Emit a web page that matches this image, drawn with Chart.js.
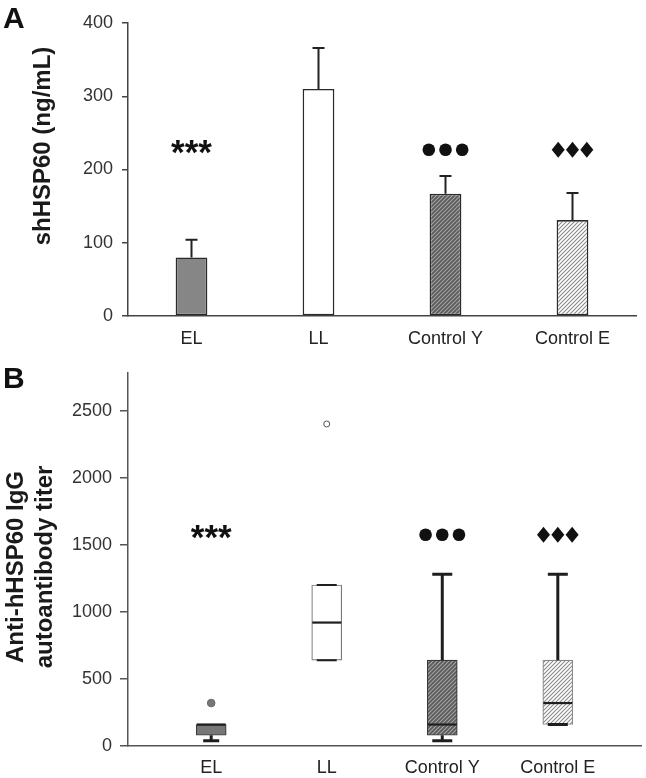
<!DOCTYPE html>
<html><head><meta charset="utf-8">
<script src="https://cdn.jsdelivr.net/npm/chart.js@4.4.0/dist/chart.umd.min.js"></script>
<style>
html,body{margin:0;padding:0;background:#fff;width:646px;height:778px;overflow:hidden}
canvas{position:absolute;left:0}
#a{top:0}#b{top:350px}
</style></head>
<body>
<canvas id="a" width="646" height="350"></canvas>
<canvas id="b" width="646" height="428"></canvas>
<script>
// ---------- data ----------
const categories = ['EL', 'LL', 'Control Y', 'Control E'];
// Panel A: mean shHSP60 (ng/mL) and top of error bar
const meanValues = [80, 310, 167, 131];
const errorTops = [104, 366, 191, 168];
const topTicks = [0, 100, 200, 300, 400];
// Panel B: box plot of anti-hHSP60 IgG titer
const boxQ1 = [80, 640, 80, 160];
const boxQ3 = [160, 1200, 640, 640];
const boxMedian = [160, 920, 160, 320];
const whiskerLow = [40, 640, 40, 160];
const whiskerHigh = [160, 1200, 1280, 1280];
const outlierCategory = [1, 2];
const outlierValues = [320, 2400];
const bottomTicks = [0, 500, 1000, 1500, 2000, 2500];
// significance markers
const markerKinds = ['stars', '', 'circles', 'diamonds'];
const markerLevelTop = 227;
const markerLevelBottom = 1575;

// ---------- styles ----------
const FONT = '"Liberation Sans", Arial, sans-serif';
function hatch(bg, fg, size, lw) {
  const c = document.createElement('canvas');
  c.width = c.height = size;
  const g = c.getContext('2d');
  g.fillStyle = bg; g.fillRect(0, 0, size, size);
  g.strokeStyle = fg; g.lineWidth = lw;
  g.beginPath();
  g.moveTo(-1, size + 1); g.lineTo(size + 1, -1);
  g.moveTo(-1, 1); g.lineTo(1, -1);
  g.moveTo(size - 1, size + 1); g.lineTo(size + 1, size - 1);
  g.stroke();
  return g.createPattern(c, 'repeat');
}
const darkHatch = hatch('#5a5a5a', '#a6a6a6', 4, 1.1);
const lightHatch = hatch('#ffffff', '#8a8a8a', 4, 1.1);
const barFills = ['#868686', '#ffffff', darkHatch, lightHatch];
const barBorders = ['#2a2a2a', '#2a2a2a', '#2a2a2a', '#2a2a2a'];
const boxFills = ['#777777', '#ffffff', darkHatch, lightHatch];
const boxBorders = ['#3a3a3a', '#7a7a7a', '#3a3a3a', '#8a8a8a'];

function drawMarker(ctx, kind, x, y) {
  ctx.save();
  ctx.fillStyle = '#111';
  if (kind === 'stars') {
    ctx.font = 'bold 35px ' + FONT;
    ctx.textAlign = 'center';
    ctx.textBaseline = 'alphabetic';
    ctx.fillText('***', x, y + 14);
  } else if (kind === 'circles') {
    for (let k = -1; k <= 1; k++) {
      ctx.beginPath(); ctx.arc(x + k * 16.7, y, 6.3, 0, Math.PI * 2); ctx.fill();
    }
  } else if (kind === 'diamonds') {
    for (let k = -1; k <= 1; k++) {
      const cx = x + k * 14.3;
      ctx.beginPath();
      ctx.moveTo(cx, y - 8); ctx.lineTo(cx + 6.5, y); ctx.lineTo(cx, y + 8); ctx.lineTo(cx - 6.5, y);
      ctx.closePath(); ctx.fill();
    }
  }
  ctx.restore();
}
function panelLetter(ctx, letter, x, y) {
  ctx.save();
  ctx.font = 'bold 30px ' + FONT;
  ctx.fillStyle = '#111';
  ctx.textAlign = 'left'; ctx.textBaseline = 'alphabetic';
  ctx.fillText(letter, x, y);
  ctx.restore();
}
function rotatedText(ctx, text, x, y) {
  ctx.save();
  ctx.translate(x, y); ctx.rotate(-Math.PI / 2);
  ctx.font = 'bold 24px ' + FONT;
  ctx.fillStyle = '#1a1a1a';
  ctx.textAlign = 'center'; ctx.textBaseline = 'middle';
  ctx.fillText(text, 0, 0);
  ctx.restore();
}

// ---------- Panel A ----------
const topPlugin = {
  id: 'topExtras',
  afterDatasetsDraw(chart) {
    const ctx = chart.ctx, ys = chart.scales.y;
    const meta = chart.getDatasetMeta(0);
    ctx.save();
    ctx.strokeStyle = '#222'; ctx.lineWidth = 2;
    meta.data.forEach((bar, i) => {
      const yt = ys.getPixelForValue(errorTops[i]);
      ctx.beginPath();
      ctx.moveTo(bar.x, bar.y); ctx.lineTo(bar.x, yt);
      ctx.moveTo(bar.x - 6, yt); ctx.lineTo(bar.x + 6, yt);
      ctx.stroke();
    });
    ctx.restore();
  },
  afterDraw(chart) {
    const ctx = chart.ctx, xs = chart.scales.x, ys = chart.scales.y;
    markerKinds.forEach((k, i) => drawMarker(ctx, k, xs.getPixelForValue(i), ys.getPixelForValue(markerLevelTop)));
    rotatedText(ctx, 'shHSP60 (ng/mL)', 43, 146);
    panelLetter(ctx, 'A', 3, 28);
  }
};
new Chart(document.getElementById('a'), {
  type: 'bar',
  data: {
    labels: categories,
    datasets: [{
      data: meanValues,
      backgroundColor: barFills,
      borderColor: barBorders,
      borderWidth: 1.6,
      borderSkipped: false,
      categoryPercentage: 1,
      barPercentage: 0.25
    }]
  },
  options: {
    responsive: false, animation: false, devicePixelRatio: 1,
    layout: { padding: { top: 23, right: 10, left: 0, bottom: 0 } },
    plugins: { legend: { display: false }, tooltip: { enabled: false } },
    scales: {
      x: {
        grid: { display: false, drawTicks: false },
        border: { display: true, color: '#444', width: 1.5 },
        ticks: { font: { family: FONT, size: 18 }, color: '#222', padding: 12 },
        afterFit(s) { s.height = 34; }
      },
      y: {
        min: 0, max: 400,
        afterBuildTicks(s) { s.ticks = topTicks.map(v => ({ value: v })); },
        grid: { drawOnChartArea: false, drawTicks: true, tickLength: 6, color: '#444', lineWidth: 1.5 },
        border: { display: true, color: '#444', width: 1.5 },
        ticks: { font: { family: FONT, size: 18 }, color: '#333', padding: 9, callback: v => String(v) },
        afterFit(s) { s.width = 128; }
      }
    }
  },
  plugins: [topPlugin]
});

// ---------- Panel B ----------
const bottomPlugin = {
  id: 'bottomExtras',
  afterDatasetsDraw(chart) {
    const ctx = chart.ctx, xs = chart.scales.x, ys = chart.scales.y;
    ctx.save();
    ctx.strokeStyle = '#1e1e1e';
    categories.forEach((c, i) => {
      const x = xs.getPixelForValue(i + 1);
      const q1 = ys.getPixelForValue(boxQ1[i]), q3 = ys.getPixelForValue(boxQ3[i]);
      const lo = ys.getPixelForValue(whiskerLow[i]), hi = ys.getPixelForValue(whiskerHigh[i]);
      const cap = i === 0 ? 8 : 10;
      ctx.lineWidth = i === 1 ? 2 : 3;
      ctx.beginPath();
      if (whiskerHigh[i] > boxQ3[i]) { ctx.moveTo(x, q3); ctx.lineTo(x, hi); }
      if (whiskerHigh[i] > boxQ3[i] || i === 1) { ctx.moveTo(x - cap, hi); ctx.lineTo(x + cap, hi); }
      if (whiskerLow[i] < boxQ1[i]) { ctx.moveTo(x, q1); ctx.lineTo(x, lo); }
      if (i !== 0 || whiskerLow[i] < boxQ1[i]) { ctx.moveTo(x - cap, lo); ctx.lineTo(x + cap, lo); }
      ctx.stroke();
      const m = ys.getPixelForValue(boxMedian[i]);
      ctx.lineWidth = 2.2;
      ctx.beginPath(); ctx.moveTo(x - 14.5, m); ctx.lineTo(x + 14.5, m); ctx.stroke();
    });
    ctx.restore();
  },
  afterDraw(chart) {
    const ctx = chart.ctx, xs = chart.scales.x, ys = chart.scales.y;
    markerKinds.forEach((k, i) => drawMarker(ctx, k, xs.getPixelForValue(i + 1), ys.getPixelForValue(markerLevelBottom)));
    rotatedText(ctx, 'Anti-hHSP60 IgG', 16, 217);
    rotatedText(ctx, 'autoantibody titer', 45, 217);
    panelLetter(ctx, 'B', 3, 38);
  }
};
new Chart(document.getElementById('b'), {
  type: 'bar',
  data: {
    datasets: [{
      type: 'bar',
      data: categories.map((c, i) => ({ x: i + 1, y: [boxQ1[i], boxQ3[i]] })),
      backgroundColor: boxFills,
      borderColor: boxBorders,
      borderWidth: 1.2,
      borderSkipped: false,
      barThickness: 30
    }, {
      type: 'scatter',
      data: outlierCategory.map((c, i) => ({ x: c, y: outlierValues[i] })),
      pointRadius: [3.8, 3],
      pointBackgroundColor: ['#777777', '#ffffff'],
      pointBorderColor: ['#666666', '#555555'],
      pointBorderWidth: 1
    }]
  },
  options: {
    responsive: false, animation: false, devicePixelRatio: 1,
    layout: { padding: { top: 23, right: 0, left: 0, bottom: 0 } },
    plugins: { legend: { display: false }, tooltip: { enabled: false } },
    scales: {
      x: {
        type: 'linear', min: 0.28, max: 4.72, offset: false,
        afterBuildTicks(s) { s.ticks = categories.map((c, i) => ({ value: i + 1 })); },
        grid: { display: false, drawTicks: false, offset: false },
        border: { display: true, color: '#555', width: 1.5 },
        ticks: { font: { family: FONT, size: 18 }, color: '#222', padding: 11,
                 callback: v => categories[v - 1] },
        afterFit(s) { s.height = 32; }
      },
      y: {
        min: 0, max: 2780,
        afterBuildTicks(s) { s.ticks = bottomTicks.map(v => ({ value: v })); },
        grid: { drawOnChartArea: false, drawTicks: true, tickLength: 8, color: '#555', lineWidth: 1.5 },
        border: { display: true, color: '#555', width: 1.5 },
        ticks: { font: { family: FONT, size: 18 }, color: '#333', padding: 8, callback: v => String(v) },
        afterFit(s) { s.width = 128; }
      }
    }
  },
  plugins: [bottomPlugin]
});
</script>
</body></html>
